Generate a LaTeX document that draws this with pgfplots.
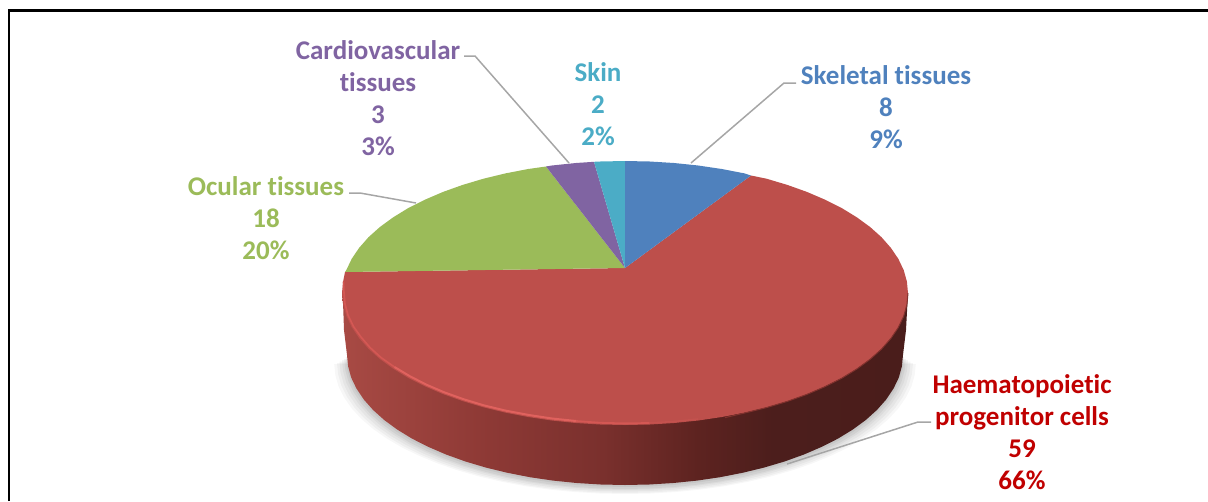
\documentclass[border=0pt]{standalone}
\usepackage{pgfplots}
\usepackage{pgfplotstable}
\usepackage{fontspec}
\setmainfont[Ligatures=NoCommon]{Carlito}
\pgfplotsset{compat=1.18}
\definecolor{cBlue}{HTML}{4F81BD}
\definecolor{cRed}{HTML}{BD4F4B}
\definecolor{cGreen}{HTML}{9BBB59}
\definecolor{cPurple}{HTML}{8064A2}
\definecolor{cTeal}{HTML}{4BACC6}
\definecolor{tRed}{HTML}{C00000}
\definecolor{leader}{HTML}{A6A6A6}
\definecolor{sA}{HTML}{A84A44}
\definecolor{sB}{HTML}{8F3A36}
\definecolor{sC}{HTML}{7A302D}
\definecolor{sD}{HTML}{5D2320}
\definecolor{sE}{HTML}{4C1E1C}
\definecolor{sF}{HTML}{4A1D1B}
\pgfdeclarehorizontalshading{sidegrad}{100bp}{color(0bp)=(sA); color(25bp)=(sA); color(37bp)=(sB); color(48bp)=(sC); color(56.5bp)=(sD); color(63bp)=(sE); color(75bp)=(sF); color(100bp)=(sF)}
% lower rim of the disc
\pgfplotstableread{
x y
903 355
901.9 366.3
898.8 377.6
893.5 388.6
886.2 399.5
877 409.9
865.8 420
852.7 429.6
838 438.6
821.6 446.9
803.7 454.6
784.5 461.5
764 467.6
742.5 472.8
720.1 477.2
696.9 480.6
673.3 483
649.2 484.5
625 485
600.8 484.5
576.7 483
553.1 480.6
529.9 477.2
507.5 472.8
486 467.6
465.5 461.5
446.3 454.6
428.4 446.9
412 438.6
397.3 429.6
384.2 420
373 409.9
363.8 399.5
356.5 388.6
351.2 377.6
348.1 366.3
347 355
}\rimtable
\begin{document}
\begin{tikzpicture}
\path[use as bounding box] (0,0) rectangle (1208pt,501pt);
\begin{axis}[
  at={(0,0)}, anchor=south west,
  scale only axis, width=1208pt, height=501pt,
  xmin=0, xmax=1208, ymin=0, ymax=501, y dir=reverse,
  hide axis, clip=true,
  every node/.style={inner sep=0pt},
]
% soft shadow
\addplot[fill=black, fill opacity=0.03, draw=none] table[x expr=625+(\thisrow{x}-625)*1.046, y expr=\thisrow{y}+9] {\rimtable} -- cycle;
\addplot[fill=black, fill opacity=0.035, draw=none] table[x expr=625+(\thisrow{x}-625)*1.036, y expr=\thisrow{y}+8] {\rimtable} -- cycle;
\addplot[fill=black, fill opacity=0.04, draw=none] table[x expr=625+(\thisrow{x}-625)*1.027, y expr=\thisrow{y}+6.5] {\rimtable} -- cycle;
\addplot[fill=black, fill opacity=0.04, draw=none] table[x expr=625+(\thisrow{x}-625)*1.018, y expr=\thisrow{y}+5] {\rimtable} -- cycle;
\addplot[fill=black, fill opacity=0.05, draw=none] table[x expr=625+(\thisrow{x}-625)*1.01, y expr=\thisrow{y}+4] {\rimtable} -- cycle;
\addplot[fill=black, fill opacity=0.05, draw=none] table[x expr=625+(\thisrow{x}-625)*1.004, y expr=\thisrow{y}+2] {\rimtable} -- cycle;
% side of the disc
\addplot[shade, shading=sidegrad, draw=none] coordinates {
(342,293)(343.1,304.5)(344,330)(347,355)(348.1,366.3)(351.2,377.6)(356.5,388.6)(363.8,399.5)(373,409.9)(384.2,420)(397.3,429.6)(412,438.6)(428.4,446.9)(446.3,454.6)(465.5,461.5)(486,467.6)(507.5,472.8)(529.9,477.2)(553.1,480.6)(576.7,483)(600.8,484.5)(625,485)(649.2,484.5)(673.3,483)(696.9,480.6)(720.1,477.2)(742.5,472.8)(764,467.6)(784.5,461.5)(803.7,454.6)(821.6,446.9)(838,438.6)(852.7,429.6)(865.8,420)(877,409.9)(886.2,399.5)(893.5,388.6)(898.8,377.6)(901.9,366.3)(903,355)(906,330)(908,293)
} -- cycle;
% Haematopoietic progenitor cells, 59
\addplot[fill=cRed, draw=none] coordinates {
(625,268)(751,175.5)(766.5,178.7)(787.3,184.9)(806.9,191.9)(825.1,199.7)(841.8,208.1)(856.8,217.3)(870.1,227)(881.5,237.2)(890.9,247.9)(898.3,258.8)(903.7,270.1)(906.9,281.5)(908,293)(906.9,304.5)(903.7,315.9)(898.3,327.2)(890.9,338.1)(881.5,348.8)(870.1,359)(856.8,368.7)(841.8,377.9)(825.1,386.3)(806.9,394.1)(787.3,401.1)(766.5,407.3)(744.6,412.6)(721.8,417)(698.2,420.5)(674.1,423)(649.7,424.5)(625,425)(600.3,424.5)(575.9,423)(551.8,420.5)(528.2,417)(505.4,412.6)(483.5,407.3)(462.7,401.1)(443.1,394.1)(424.9,386.3)(408.2,377.9)(393.2,368.7)(379.9,359)(368.5,348.8)(359.1,338.1)(351.7,327.2)(346.3,315.9)(343.1,304.5)(342,293)(343.1,281.5)(345,272)
} -- cycle;
% rim highlight
\addplot[color={rgb,255:red,212;green,88;blue,84}, line width=1.6pt] coordinates {(343.5,281.5)(344,293)(345,304)(348,315)(353.5,326.5)(361,337)(370,347.5)(381,357.5)(394.5,367)};
\addplot[color={rgb,255:red,224;green,98;blue,94}, line width=2pt] coordinates {(394.5,367)(409.5,376)(426,384.5)(444,392.2)(463.5,399.2)(484,405.4)(506,410.7)(529,415)(552,418.5)(576,421)};
\addplot[color={rgb,255:red,212;green,88;blue,84}, line width=1.8pt] coordinates {(576,421)(600.3,422.8)(625,423.4)(649.7,423)};
\addplot[color={rgb,255:red,196;green,82;blue,78}, line width=1.6pt] coordinates {(649.7,423)(674.1,421.5)(698.2,419)};
% soft dark edge on the right
\addplot[color={rgb,255:red,130;green,50;blue,46}, line width=1pt] coordinates {(725,417.6)(744.6,413)(766.5,407.6)(787.3,401.4)(806.9,394.4)(825.1,386.6)(841.8,378.2)(856.8,369)(870.1,359.3)(881.5,349.1)(890.9,338.4)(898.3,327.5)(903.7,316.2)(906.9,304.8)(908,293)};
% Ocular tissues, 18
\addplot[fill=cGreen, draw=none] coordinates {
(625,268)(345,272)(346.3,270.1)(351.7,258.8)(359.1,247.9)(368.5,237.2)(379.9,227)(393.2,217.3)(408.2,208.1)(424.9,199.7)(443.1,191.9)(462.7,184.9)(483.5,178.7)(505.4,173.4)(528.2,169)(546,166.5)
} -- cycle;
% Cardiovascular tissues, 3
\addplot[fill=cPurple, draw=none] coordinates {
(625,268)(546,166.5)(551.8,165.5)(575.9,163)(594,161.8)
} -- cycle;
% Skin, 2
\addplot[fill=cTeal, draw=none] coordinates {
(625,268)(594,161.8)(600.3,161.5)(625,161)
} -- cycle;
% Skeletal tissues, 8
\addplot[fill=cBlue, draw=none] coordinates {
(625,268)(625,161)(649.7,161.5)(674.1,163)(698.2,165.5)(721.8,169)(744.6,173.4)(751,175.5)
} -- cycle;
% leader lines
\addplot[color=leader, line width=1.5pt] coordinates {(691,163)(784,83)(796,83)};
\addplot[color=leader, line width=1.5pt] coordinates {(464,56)(475,56)(569,163)};
\addplot[color=leader, line width=1.5pt] coordinates {(349,193)(360,193)(416,203)};
\addplot[color=leader, line width=1.5pt] coordinates {(931,422)(918,422)(787,464)};
% frame
\addplot[color=black, line width=2.2pt] coordinates {(9,501)(9,10.5)(1208,10.5)};
% labels
\tikzset{lab/.style={align=center, font=\fontsize{27}{32}\selectfont\bfseries}}
\node[lab, text=cBlue] at (axis cs:886,107) {Skeletal tissues\\8\\9\%};
\node[lab, text=tRed] at (axis cs:1022,432) {Haematopoietic\\progenitor cells\\59\\66\%};
\node[lab, text=cGreen] at (axis cs:266,218) {Ocular tissues\\18\\20\%};
\node[lab, text=cPurple] at (axis cs:378,98) {Cardiovascular\\tissues\\3\\3\%};
\node[lab, text=cTeal] at (axis cs:598,104) {Skin\\2\\2\%};
\end{axis}
\end{tikzpicture}
\end{document}
